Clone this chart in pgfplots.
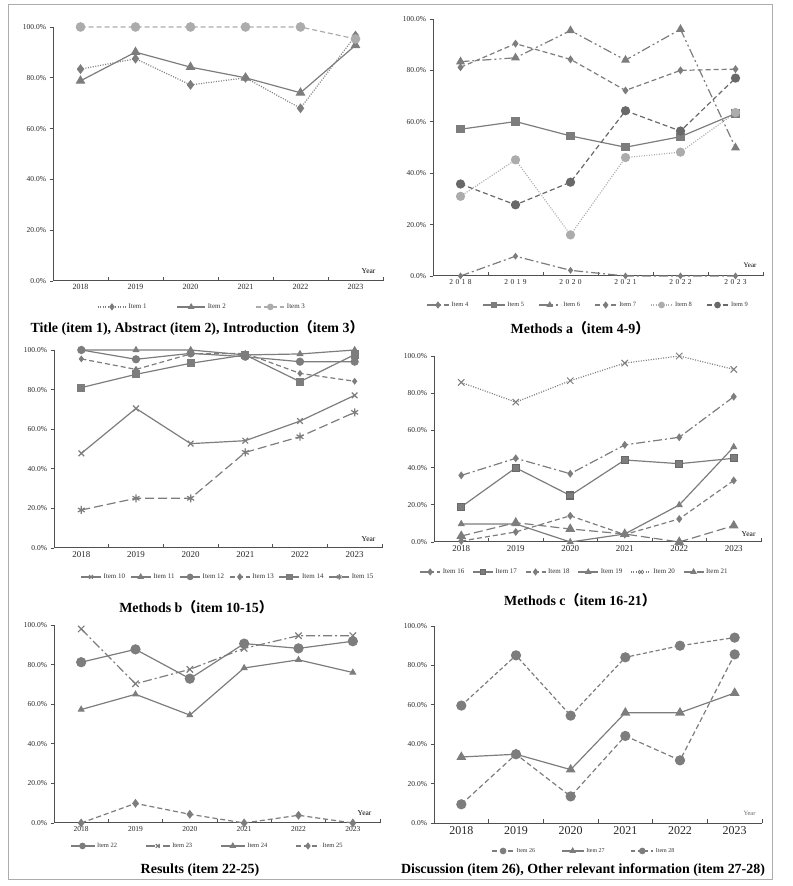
\documentclass[border=0pt]{standalone}
\usepackage{pgfplots}
\pgfplotsset{compat=1.18}
\usepackage{fontspec}
\setmainfont{Liberation Serif}
\newfontfamily\cjk{Noto Sans CJK SC}
\newcommand\fs[1]{\fontsize{#1}{#1}\selectfont}
\newcommand\ls[4]{#1\hspace{2.5bp}#2\hspace{2.5bp}#3\hspace{2.5bp}#4}
\definecolor{g1}{RGB}{125,125,125}
\definecolor{g2}{RGB}{172,172,172}
\definecolor{g3}{RGB}{105,105,105}
\definecolor{axc}{RGB}{80,80,80}
\pgfplotsset{
  leglen/.initial=26bp,
  panel/.style={
    scale only axis, anchor=south west, clip=false,
    xmin=2017.5, xmax=2023.5, ymin=0, ymax=100,
    axis x line=bottom, axis y line=left,
    axis line style={-, draw=axc, line width=1bp},
    xtick={2018.5,2019.5,2020.5,2021.5,2022.5,2023.5}, xticklabels={},
    xtick align=inside, ytick align=outside,
    major tick length=3.5bp,
    tick style={draw=axc, line width=0.8bp},
    extra x ticks={2018,2019,2020,2021,2022,2023},
    extra x tick style={major tick length=0pt},
    extra x tick labels={2018,2019,2020,2021,2022,2023},
    ytick={0,20,40,60,80,100},
    yticklabel={\pgfmathprintnumber[fixed,fixed zerofill,precision=1]{\tick}\%},
    /pgf/number format/assume math mode=true,
    yticklabel style={font=\fs{7.5}, text=black!85},
    xticklabel style={font=\fs{8}, text=black!85},
    legend style={draw=none, fill=none, anchor=center, font=\fs{7}, text=black!80,
      legend columns=-1, inner sep=0pt},
    legend image code/.code={\draw[mark repeat=2,mark phase=2,##1] plot coordinates
      {(0bp,0bp) (0.5*\pgfkeysvalueof{/pgfplots/leglen},0bp) (\pgfkeysvalueof{/pgfplots/leglen},0bp)};},
    legend image post style={mark size=2.7bp},
  },
  ln/.style={g1, line width=1.2bp},
  dsh/.style={dash pattern=on 5bp off 3bp},
  ldsh/.style={dash pattern=on 9bp off 4bp},
  dot/.style={dash pattern=on 1bp off 1.5bp},
  dd/.style={dash pattern=on 9bp off 3bp on 2bp off 3bp},
  ddd/.style={dash pattern=on 9bp off 3bp on 2bp off 3bp on 2bp off 3bp},
}
\begin{document}
\begin{tikzpicture}
\useasboundingbox (0bp,0bp) rectangle (793bp,886bp);
\draw[g2, line width=1bp] (8bp,6bp) rectangle (772bp,881bp);

% Panel 1
\begin{axis}[panel, at={(53bp,605bp)}, width=330bp, height=254bp,
  leglen=28bp,
  legend style={at={(0.452,-0.102)}, /tikz/every even column/.append style={column sep=28bp}}]
\addplot[ln, dot, mark=diamond*, mark size=4bp, mark options={solid, fill=g1}]
  coordinates {(2018,83.4) (2019,87.5) (2020,77.2) (2021,80.0) (2022,68.0) (2023,96.6)};
\addplot[ln, mark=triangle*, mark size=4.5bp, mark options={solid, fill=g1}]
  coordinates {(2018,78.8) (2019,90.1) (2020,84.2) (2021,80.0) (2022,74.1) (2023,92.8)};
\addplot[g2, line width=1.2bp, dsh, mark=*, mark size=4.2bp, mark options={solid, fill=g2, draw=g2}]
  coordinates {(2018,100) (2019,100) (2020,100) (2021,100) (2022,100) (2023,95.3)};
\legend{Item 1, Item 2, Item 3}
\node[anchor=south east, font=\fs{7.5}, xshift=-4bp, yshift=4bp] at (rel axis cs:1,0) {Year};
\end{axis}

% Panel 2
\begin{axis}[panel, at={(433bp,610bp)}, width=330bp, height=257bp,
  extra x tick labels={\ls 2018,\ls 2019,\ls 2020,\ls 2021,\ls 2022,\ls 2023},
  xticklabel style={font=\fs{7.5}},
  leglen=22bp,
  legend style={at={(0.47,-0.113)}, font=\fs{6.5}, /tikz/every even column/.append style={column sep=12bp}}]
\addplot[ln, dd, mark=diamond*, mark size=2.5bp, mark options={solid, fill=g1}]
  coordinates {(2018,0) (2019,7.7) (2020,2.2) (2021,0) (2022,0) (2023,0)};
\addplot[ln, mark=square*, mark size=3.5bp, mark options={solid, fill=g1}]
  coordinates {(2018,57.1) (2019,60.1) (2020,54.5) (2021,50.1) (2022,54.2) (2023,63.2)};
\addplot[ln, ddd, mark=triangle*, mark size=4bp, mark options={solid, fill=g1}]
  coordinates {(2018,83.4) (2019,84.9) (2020,95.5) (2021,84.0) (2022,96.0) (2023,49.9)};
\addplot[ln, dsh, mark=diamond*, mark size=3bp, mark options={solid, fill=g1}]
  coordinates {(2018,81.2) (2019,90.4) (2020,84.3) (2021,72.2) (2022,80.0) (2023,80.5)};
\addplot[g2, line width=1.2bp, dot, mark=*, mark size=4bp, mark options={solid, fill=g2, draw=g2}]
  coordinates {(2018,31.0) (2019,45.2) (2020,16.0) (2021,46.1) (2022,48.2) (2023,63.6)};
\addplot[g3, line width=1.2bp, dsh, mark=*, mark size=4bp, mark options={solid, fill=g3, draw=g3}]
  coordinates {(2018,35.8) (2019,27.7) (2020,36.5) (2021,64.3) (2022,56.4) (2023,77.0)};
\legend{Item 4, Item 5, Item 6, Item 7, Item 8, Item 9}
\node[anchor=south east, font=\fs{7}, xshift=-3bp, yshift=5bp] at (rel axis cs:1,0) {Year};
\end{axis}

% Panel 3
\begin{axis}[panel, at={(54bp,338bp)}, width=328bp, height=198bp,
  xticklabel style={font=\fs{9}},
  leglen=20bp,
  legend style={at={(0.53,-0.146)}, /tikz/every even column/.append style={column sep=3bp}}]
\addplot[ln, mark=x, mark size=4bp, mark options={solid, line width=1.2bp}]
  coordinates {(2018,47.8) (2019,70.5) (2020,52.7) (2021,54.2) (2022,64.1) (2023,77.1)};
\addplot[ln, mark=triangle*, mark size=3bp, mark options={solid, fill=g1}]
  coordinates {(2018,100) (2019,100) (2020,100) (2021,97.5) (2022,98.0) (2023,100)};
\addplot[ln, mark=*, mark size=3.5bp, mark options={solid, fill=g1}]
  coordinates {(2018,100) (2019,95.3) (2020,98.3) (2021,96.6) (2022,94.1) (2023,94.1)};
\addplot[ln, dsh, mark=diamond*, mark size=2.5bp, mark options={solid, fill=g1}]
  coordinates {(2018,95.5) (2019,90.2) (2020,98.0) (2021,98.3) (2022,88.2) (2023,84.2)};
\addplot[ln, mark=square*, mark size=3.5bp, mark options={solid, fill=g1}]
  coordinates {(2018,81.0) (2019,87.7) (2020,93.3) (2021,97.5) (2022,84.0) (2023,97.7)};
\addplot[ln, ldsh, mark=asterisk, mark size=4bp, mark options={solid, line width=1.2bp}]
  coordinates {(2018,19.2) (2019,25.1) (2020,25.1) (2021,48.3) (2022,56.2) (2023,68.5)};
\legend{Item 10, Item 11, Item 12, Item 13, Item 14, Item 15}
\node[anchor=south east, font=\fs{7.5}, xshift=-3bp, yshift=3bp] at (rel axis cs:1,0) {Year};
\end{axis}

% Panel 4
\begin{axis}[panel, at={(434bp,344bp)}, width=327bp, height=186bp,
  xticklabel style={font=\fs{9}},
  leglen=20bp,
  legend style={at={(0.43,-0.161)}, /tikz/every even column/.append style={column sep=6bp}}]
\addplot[ln, dd, mark=diamond*, mark size=3bp, mark options={solid, fill=g1}]
  coordinates {(2018,35.8) (2019,45.0) (2020,36.7) (2021,52.2) (2022,56.3) (2023,78.1)};
\addplot[ln, mark=square*, mark size=3.5bp, mark options={solid, fill=g1, draw=g3}]
  coordinates {(2018,18.9) (2019,39.9) (2020,25.0) (2021,44.1) (2022,42.1) (2023,45.0)};
\addplot[ln, dsh, mark=diamond*, mark size=3bp, mark options={solid, fill=g1}]
  coordinates {(2018,0.5) (2019,5.4) (2020,14.1) (2021,4.0) (2022,12.4) (2023,33.1)};
\addplot[ln, mark=triangle*, mark size=3bp, mark options={solid, fill=g1}]
  coordinates {(2018,9.7) (2019,9.7) (2020,0) (2021,4.3) (2022,19.9) (2023,51.1)};
\addplot[ln, dot, mark=x, mark size=4.5bp, mark options={solid, line width=1bp}]
  coordinates {(2018,85.8) (2019,75.2) (2020,86.7) (2021,96.2) (2022,100) (2023,92.8)};
\addplot[ln, ldsh, mark=triangle*, mark size=4.5bp, mark options={solid, fill=g1}]
  coordinates {(2018,3.2) (2019,10.4) (2020,7.0) (2021,4.3) (2022,0) (2023,8.8)};
\legend{Item 16, Item 17, Item 18, Item 19, Item 20, Item 21}
\node[anchor=south east, font=\fs{7.5}, xshift=-2bp, yshift=2bp] at (rel axis cs:1,0) {Year};
\end{axis}

% Panel 5
\begin{axis}[panel, at={(54bp,63bp)}, width=326bp, height=198bp,
  xticklabel style={font=\fs{7.5}},
  leglen=24bp,
  legend style={at={(0.47,-0.116)}, font=\fs{6.5}, /tikz/every even column/.append style={column sep=26bp}}]
\addplot[ln, mark=*, mark size=4.5bp, mark options={solid, fill=g1}]
  coordinates {(2018,81.2) (2019,87.7) (2020,72.9) (2021,90.6) (2022,88.2) (2023,91.8)};
\addplot[ln, dd, mark=x, mark size=4.5bp, mark options={solid, line width=1.2bp}]
  coordinates {(2018,98.0) (2019,70.3) (2020,77.6) (2021,88.2) (2022,94.6) (2023,94.6)};
\addplot[ln, mark=triangle*, mark size=3bp, mark options={solid, fill=g1}]
  coordinates {(2018,57.3) (2019,65.0) (2020,54.5) (2021,78.3) (2022,82.4) (2023,76.0)};
\addplot[ln, dsh, mark=diamond*, mark size=3.5bp, mark options={solid, fill=g1}]
  coordinates {(2018,0) (2019,9.9) (2020,4.4) (2021,0) (2022,3.9) (2023,0)};
\legend{Item 22, Item 23, Item 24, Item 25}
\node[anchor=south east, font=\fs{7.5}, xshift=-5bp, yshift=4bp] at (rel axis cs:1,0) {Year};
\end{axis}

% Panel 6
\begin{axis}[panel, at={(434bp,63bp)}, width=328bp, height=197bp,
  xticklabel style={font=\fs{12}},
  leglen=22bp,
  legend style={at={(0.457,-0.142)}, font=\fs{6}, /tikz/every even column/.append style={column sep=24bp}}]
\addplot[ln, dsh, mark=*, mark size=4.5bp, mark options={solid, fill=g1}]
  coordinates {(2018,9.5) (2019,34.9) (2020,13.5) (2021,44.2) (2022,31.8) (2023,85.6)};
\addplot[ln, mark=triangle*, mark size=4.5bp, mark options={solid, fill=g1}]
  coordinates {(2018,33.5) (2019,34.9) (2020,27.1) (2021,56.0) (2022,56.0) (2023,66.0)};
\addplot[ln, dash pattern=on 4bp off 2.5bp, mark=*, mark size=4.5bp, mark options={solid, fill=g1}]
  coordinates {(2018,59.6) (2019,85.1) (2020,54.5) (2021,84.1) (2022,90.0) (2023,94.1)};
\legend{Item 26, Item 27, Item 28}
\node[anchor=south east, font=\fs{6.5}, text=black!60, xshift=-3bp, yshift=4bp] at (rel axis cs:1,0) {Year};
\end{axis}

% Titles
\node[font=\bfseries\fs{14}] at (197bp,558bp) {Title (item 1), Abstract (item 2), Introduction{\cjk （}item 3{\cjk ）}};
\node[font=\bfseries\fs{14}] at (580bp,558bp) {Methods a{\cjk （}item 4-9{\cjk ）}};
\node[font=\bfseries\fs{14}] at (196bp,279bp) {Methods b{\cjk （}item 10-15{\cjk ）}};
\node[font=\bfseries\fs{14}] at (580bp,286bp) {Methods c{\cjk （}item 16-21{\cjk ）}};
\node[font=\bfseries\fs{14}] at (200bp,16bp) {Results (item 22-25)};
\node[font=\bfseries\fs{14}] at (583bp,16bp) {Discussion (item 26), Other relevant information (item 27-28)};
\end{tikzpicture}
\end{document}
